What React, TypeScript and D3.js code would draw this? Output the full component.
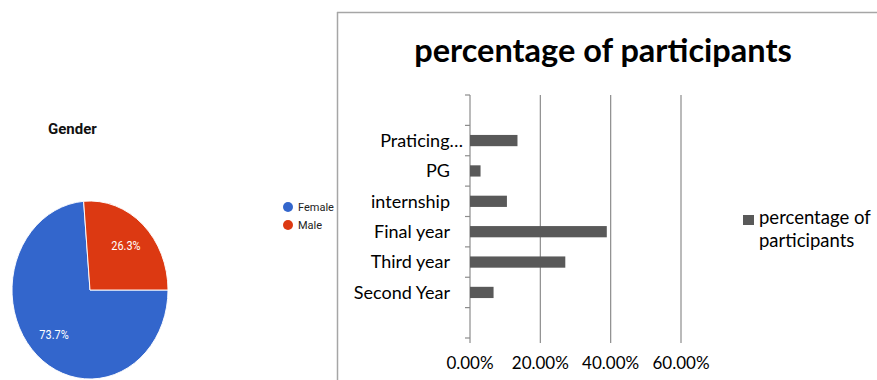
import React from "react";
import * as d3 from "d3";

// Gender split (percent)
const genderLabels = ["Female", "Male"];
const genderValues = [73.7, 26.3];
const genderColors = ["#3366cc", "#dc3912"];

// Participants by year of study (percent); blank slots pad the category axis
const yearLabels = ["", "Second Year", "Third year", "Final year", "internship", "PG", "Praticing…", ""];
const yearValues: (number | null)[] = [null, 6.7, 27.1, 38.9, 10.5, 3.0, 13.5, null];
const percentTicks = [0, 20, 40, 60];

const W = 877;
const H = 380;
const CAL = "Lato, 'Open Sans', sans-serif";
const ROB = "Roboto, Arial, sans-serif";

function GenderPie() {
  const cx = 90;
  const cy = 290;
  const r = 89;
  const squish = 78 / 89;
  const pie = d3
    .pie<number>()
    .sort(null)
    .startAngle(Math.PI / 2)
    .endAngle(Math.PI / 2 + Math.PI * 2);
  const arcs = pie(genderValues);
  const arc = d3.arc<d3.PieArcDatum<number>>().innerRadius(0).outerRadius(r);
  const labelArc = d3.arc<d3.PieArcDatum<number>>().innerRadius(r * 0.68).outerRadius(r * 0.68);
  return (
    <g>
      <text x={48} y={134} fontFamily={ROB} fontWeight="bold" fontSize={15} fill="#111">
        Gender
      </text>
      <g transform={`translate(${cx},${cy}) scale(${squish},1)`}>
        {arcs.map((a, i) => (
          <path key={i} d={arc(a) || ""} fill={genderColors[i]} stroke="#fff" strokeWidth={1} />
        ))}
        {arcs.map((a, i) => {
          const [lx, ly] = labelArc.centroid(a);
          return (
            <text
              key={i}
              x={lx}
              y={ly}
              textAnchor="middle"
              dominantBaseline="central"
              fontFamily={ROB}
              fontSize={12.5}
              fill="#fff"
            >
              {genderValues[i].toFixed(1)}%
            </text>
          );
        })}
      </g>
      {genderLabels.map((lab, i) => (
        <g key={lab} transform={`translate(288,${207 + i * 18})`}>
          <circle r={5} fill={genderColors[i]} />
          <text x={10} y={0} dominantBaseline="central" fontFamily={ROB} fontSize={11} fill="#222">
            {lab}
          </text>
        </g>
      ))}
    </g>
  );
}

function YearBars() {
  const x = d3.scaleLinear().domain([0, 60]).range([470, 681]);
  const y = d3
    .scaleBand<number>()
    .domain(d3.range(yearLabels.length))
    .range([338, 95])
    .padding(0);
  const bw = y.bandwidth();
  const barH = bw * 0.37;
  const top = 95;
  const bottom = 338;
  const fmt = (v: number) => d3.format(".2f")(v) + "%";
  const boundaries = d3.range(yearLabels.length + 1).map((i) => bottom - i * bw);
  return (
    <g>
      {/* panel frame */}
      <line x1={337.5} x2={337.5} y1={12} y2={H} stroke="#a6a6a6" strokeWidth={1.5} />
      <line x1={337} x2={W} y1={12.5} y2={12.5} stroke="#a6a6a6" strokeWidth={1.5} />
      <text x={603} y={62} textAnchor="middle" fontFamily={CAL} fontWeight="bold" fontSize={32.5} fill="#000">
        percentage of participants
      </text>
      {/* vertical gridlines and x ticks */}
      {percentTicks.map((t) => (
        <g key={t}>
          <line x1={x(t)} x2={x(t)} y1={top} y2={bottom + 5} stroke="#8c8c8c" strokeWidth={1.2} />
          <text x={x(t)} y={369} textAnchor="middle" fontFamily={CAL} fontSize={17} fill="#000">
            {fmt(t)}
          </text>
        </g>
      ))}
      {/* category tick marks */}
      {boundaries.map((b, i) => (
        <line key={i} x1={x(0) - 5} x2={x(0)} y1={b} y2={b} stroke="#8c8c8c" strokeWidth={1.2} />
      ))}
      {yearValues.map((v, i) =>
        v == null ? null : (
          <rect
            key={i}
            x={x(0)}
            y={(y(i) as number) + (bw - barH) / 2}
            width={x(v) - x(0)}
            height={barH}
            fill="#595959"
          />
        )
      )}
      {yearLabels.map((lab, i) =>
        lab === "" ? null : (
          <text
            key={i}
            x={lab.endsWith("…") ? x(0) - 7 : x(0) - 20}
            y={(y(i) as number) + bw / 2}
            dy="0.35em"
            textAnchor="end"
            fontFamily={CAL}
            fontSize={18}
            fill="#000"
          >
            {lab}
          </text>
        )
      )}
      {/* legend */}
      <rect x={743} y={215} width={11} height={10} fill="#595959" />
      <text x={759} y={224} fontFamily={CAL} fontSize={18.5} fill="#000">
        percentage of
      </text>
      <text x={759} y={247} fontFamily={CAL} fontSize={18.5} fill="#000">
        participants
      </text>
    </g>
  );
}

export default function App() {
  return (
    <svg
      width={W}
      height={H}
      viewBox={`0 0 ${W} ${H}`}
      style={{ position: "absolute", left: 0, top: 0, background: "#fff", display: "block" }}
    >
      <rect width={W} height={H} fill="#fff" />
      <GenderPie />
      <YearBars />
    </svg>
  );
}
